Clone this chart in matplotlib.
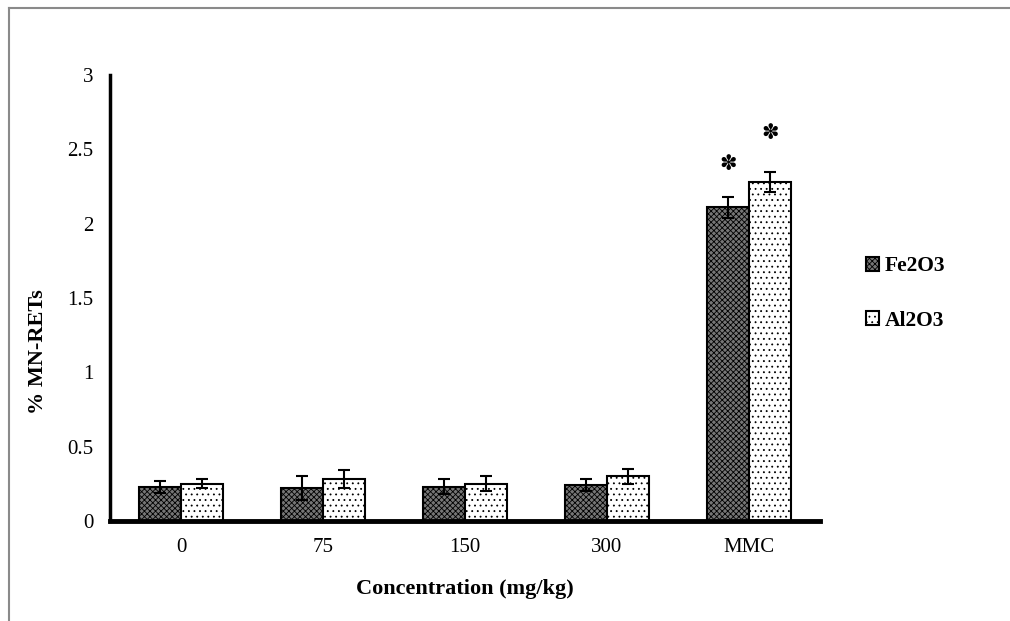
import numpy as np
import matplotlib
matplotlib.use("Agg")
import matplotlib.pyplot as plt
from matplotlib.lines import Line2D

plt.rcParams["font.family"] = ["Liberation Serif", "DejaVu Sans"]
plt.rcParams["hatch.linewidth"] = 0.6

# ----- veri
categories = ["0", "75", "150", "300", "MMC"]
fe2o3 = [0.23, 0.22, 0.23, 0.24, 2.11]
fe2o3_err = [0.04, 0.08, 0.05, 0.04, 0.07]
al2o3 = [0.25, 0.28, 0.25, 0.30, 2.28]
al2o3_err = [0.03, 0.06, 0.05, 0.05, 0.07]
signif = [False, False, False, False, True]

fig = plt.figure(figsize=(10.1, 6.21), dpi=100)
ax = fig.add_axes([110/1010, 1 - 521/621, 710/1010, 446/621])

x = np.arange(len(categories))
w = 0.296
ax.bar(x - w/2, fe2o3, w, facecolor="#767676", edgecolor="black",
       hatch="xxxxxx", linewidth=1.5, label="Fe2O3")
ax.bar(x + w/2, al2o3, w, facecolor="white", edgecolor="black",
       hatch="...", linewidth=1.5, label="Al2O3")
ax.errorbar(x - w/2, fe2o3, yerr=fe2o3_err, fmt="none", ecolor="black",
            elinewidth=1.5, capsize=4, capthick=1.5)
ax.errorbar(x + w/2, al2o3, yerr=al2o3_err, fmt="none", ecolor="black",
            elinewidth=1.5, capsize=4, capthick=1.5)

# yıldızlar (anlamlılık)
for i, s in enumerate(signif):
    if s:
        ax.text(x[i] - w/2, fe2o3[i] + fe2o3_err[i] + 0.22, "\u273d",
                ha="center", va="center", fontsize=15, fontweight="bold",
                family="DejaVu Sans")
        ax.text(x[i] + w/2, al2o3[i] + al2o3_err[i] + 0.26, "\u273d",
                ha="center", va="center", fontsize=15, fontweight="bold",
                family="DejaVu Sans")

ax.set_xlim(-0.5, len(categories) - 0.5)
ax.set_ylim(0, 3)
ax.set_yticks([0, 0.5, 1, 1.5, 2, 2.5, 3])
ax.set_yticklabels(["0", "0.5", "1", "1.5", "2", "2.5", "3"])
ax.set_xticks(x)
ax.set_xticklabels(categories)
ax.tick_params(length=0, labelsize=15)
ax.tick_params(axis="x", pad=12)
ax.tick_params(axis="y", pad=12)
for s in ["top", "right"]:
    ax.spines[s].set_visible(False)
ax.spines["left"].set_linewidth(2.5)
ax.spines["bottom"].set_linewidth(3.5)

ax.set_xlabel("Concentration (mg/kg)", fontsize=16, fontweight="bold", labelpad=16)
ax.set_ylabel("% MN-RETs", fontsize=16, fontweight="bold")
ax.yaxis.set_label_coords(-0.088, 0.38)

ax.legend(loc="center left", bbox_to_anchor=(1.037, 0.51), frameon=False,
          prop={"weight": "bold", "size": 15.5}, handlelength=0.6, handleheight=0.6,
          handletextpad=0.3, labelspacing=1.6)

# gri çerçeve
fig.add_artist(Line2D([9/1010, 9/1010], [0, 1 - 8/621], transform=fig.transFigure,
                      color="#8a8a8a", linewidth=1.5))
fig.add_artist(Line2D([9/1010, 1], [1 - 8/621, 1 - 8/621], transform=fig.transFigure,
                      color="#8a8a8a", linewidth=1.5))

fig.savefig("out.png", dpi=100)
